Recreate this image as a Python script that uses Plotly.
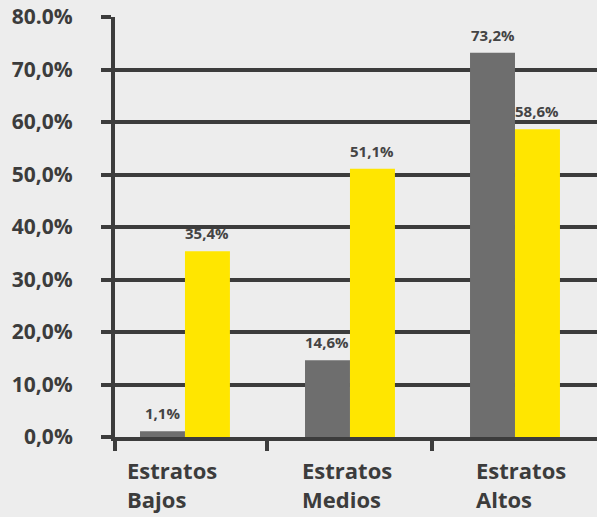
import plotly.graph_objects as go

# Share of each socioeconomic stratum, two series
categories = ["Estratos<br>Bajos", "Estratos<br>Medios", "Estratos<br>Altos"]
serie_gris = [1.1, 14.6, 73.2]
serie_amarilla = [35.4, 51.1, 58.6]
y_ticks = [0, 10, 20, 30, 40, 50, 60, 70, 80]
y_ticktext = ["0,0%", "10,0%", "20,0%", "30,0%", "40,0%", "50,0%", "60,0%", "70,0%", "80.0%"]

DARK = "#3c3c3c"
FONT = "Open Sans"
BAR_W = 0.2725

def pct(v):
    return f"{v:.1f}%".replace(".", ",")

x = list(range(len(categories)))

fig = go.Figure()
series = [(serie_gris, "#6e6e6e", -BAR_W), (serie_amarilla, "#ffe600", 0.0)]
for values, color, off in series:
    fig.add_trace(go.Bar(
        x=x, y=values, width=BAR_W, offset=off,
        marker=dict(color=color, line_width=0),
    ))
    # value labels floating above each bar
    for xi, v in zip(x, values):
        fig.add_annotation(
            x=xi + off + BAR_W / 2, y=v, xref="x", yref="y",
            yanchor="bottom", yshift=6, showarrow=False, text=pct(v),
            font=dict(family=FONT, size=15, color="#444444", weight="bold"),
        )

# Category labels under the axis (left-aligned two-line blocks)
label_shift = [-60, -50, -41]
for i, c in enumerate(categories):
    fig.add_annotation(
        x=i, y=0, xref="x", yref="y", yshift=-16, yanchor="top",
        xanchor="left", xshift=label_shift[i],
        text=c, showarrow=False, align="left",
        font=dict(family=FONT, size=22, color=DARK, weight="bold"),
    )

fig.update_layout(
    width=597, height=517,
    margin=dict(l=115, r=0, t=17, b=80),
    paper_bgcolor="#ededed", plot_bgcolor="#ededed",
    barmode="overlay",
    showlegend=False,
)
fig.update_xaxes(
    range=[-0.424, 2.497], showgrid=False, zeroline=False,
    tickvals=x, showticklabels=False, ticks="",
    showline=True, linecolor=DARK, linewidth=4,
    minor=dict(tickvals=[-0.424, 0.5, 1.5], ticks="outside", ticklen=10,
               tickwidth=4, tickcolor=DARK, showgrid=False),
)
fig.update_yaxes(
    range=[0, 80], tickvals=y_ticks, ticktext=y_ticktext,
    showgrid=True, gridcolor=DARK, gridwidth=4, zeroline=False,
    showline=True, linecolor=DARK, linewidth=4,
    ticks="outside", ticklen=10, tickwidth=4, tickcolor=DARK,
    ticklabelstandoff=24,
    tickfont=dict(family=FONT, size=21, color=DARK, weight="bold"),
)

fig.write_html("out.html")
